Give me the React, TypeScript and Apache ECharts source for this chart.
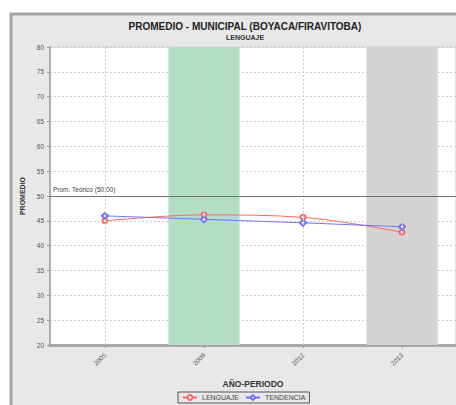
import React, { useEffect, useRef } from "react";
import * as echarts from "echarts";

const categories = ["2005", "2009", "2012", "2013"];
const lenguaje = [45.0, 46.2, 45.7, 42.7];
const tendencia = [46.0, 45.3, 44.6, 43.8];
const highlighted = ["2009", "2013"];
const promTeorico = 50;

export default function App() {
  const ref = useRef<HTMLDivElement>(null);
  useEffect(() => {
    const chart = echarts.init(ref.current!, null, { renderer: "svg" });
    const half = 0.36;
    const bandColors = ["#b3dfc7", "#d4d4d4"];
    const font = "Liberation Sans, Arial, sans-serif";
    chart.setOption({
      animation: false,
      backgroundColor: "#ffffff",
      textStyle: { fontFamily: font },
      graphic: [
        {
          type: "rect",
          z: -10,
          shape: { x: 11, y: 14, width: 480, height: 420 },
          style: { fill: "#e8e8e8", stroke: "#a3a3a3", lineWidth: 3 },
        },
      ],
      title: {
        text: "PROMEDIO - MUNICIPAL (BOYACA/FIRAVITOBA)",
        subtext: "LENGUAJE",
        left: 240,
        textAlign: "center",
        top: 16,
        itemGap: 3,
        textStyle: { fontSize: 10, fontWeight: "bold", color: "#222", fontFamily: font },
        subtextStyle: { fontSize: 7, fontWeight: "bold", color: "#333", fontFamily: font },
      },
      legend: {
        left: 178,
        top: 392,
        orient: "horizontal",
        borderColor: "#555",
        borderWidth: 1,
        padding: [2, 4],
        itemGap: 6,
        itemWidth: 14,
        itemHeight: 6,
        textStyle: { fontSize: 7, color: "#444", fontFamily: font },
        data: ["LENGUAJE", "TENDENCIA"],
      },
      grid: {
        left: 50,
        top: 47,
        right: 0,
        bottom: 60,
        show: true,
        backgroundColor: "#ffffff",
        borderColor: "#cfcfcf",
        borderWidth: 1,
      },
      xAxis: {
        type: "value",
        min: -0.555,
        max: 3.545,
        name: "AÑO-PERIODO",
        nameLocation: "middle",
        nameGap: 34,
        nameTextStyle: { fontSize: 8.5, fontWeight: "bold", color: "#333" },
        axisLine: { show: true, onZero: false, lineStyle: { color: "#a8a8a8", width: 3 } },
        axisTick: {
          show: true,
          customValues: categories.map((_, i) => i),
          length: 3,
          lineStyle: { color: "#999" },
        },
        axisLabel: {
          customValues: categories.map((_, i) => i),
          formatter: (v: number) => categories[Math.round(v)] ?? "",
          rotate: 45,
          fontSize: 6.5,
          color: "#555",
          margin: 9,
        },
        splitLine: { show: false },
      },
      yAxis: {
        type: "value",
        min: 20,
        max: 80,
        interval: 5,
        name: "PROMEDIO",
        nameLocation: "middle",
        nameGap: 20,
        nameRotate: 90,
        nameTextStyle: { fontSize: 7, fontWeight: "bold", color: "#333" },
        axisLine: { show: true, onZero: false, lineStyle: { color: "#b0b0b0", width: 2 } },
        axisTick: { show: true, length: 3, lineStyle: { color: "#999" } },
        axisLabel: { fontSize: 6.5, color: "#555", margin: 6 },
        splitLine: { show: true, lineStyle: { color: "#cdcdcd", type: [2, 2], width: 1 } },
      },
      series: [
        {
          name: "LENGUAJE",
          type: "line",
          z: 3,
          data: lenguaje.map((v, i) => [i, v]),
          smooth: 0.35,
          symbol: "emptyCircle",
          symbolSize: 5,
          itemStyle: { color: "#ff6464" },
          lineStyle: { color: "#ff6464", width: 1 },
          markArea: {
            silent: true,
            data: highlighted.map((c, k) => {
              const idx = categories.indexOf(c);
              return [
                { xAxis: idx - half, itemStyle: { color: bandColors[k] } },
                { xAxis: idx + half },
              ];
            }),
          },
          markLine: {
            silent: true,
            symbol: "none",
            label: { show: false },
            lineStyle: { color: "#cdcdcd", type: [2, 2], width: 1 },
            data: categories.map((_, i) => ({ xAxis: i })),
          },
        },
        {
          name: "TENDENCIA",
          type: "line",
          z: 4,
          data: tendencia.map((v, i) => [i, v]),
          smooth: 0.2,
          symbol: "emptyDiamond",
          symbolSize: 6,
          itemStyle: { color: "#7070ff" },
          lineStyle: { color: "#7070ff", width: 1 },
          markLine: {
            silent: true,
            symbol: "none",
            lineStyle: { color: "#707070", type: "solid", width: 1 },
            label: {
              show: true,
              position: "insideStartTop",
              formatter: "Prom. Teórico (" + promTeorico.toFixed(2) + ")",
              fontSize: 6.5,
              color: "#444",
              distance: 3,
            },
            data: [{ yAxis: promTeorico }],
          },
        },
      ],
    });
    return () => chart.dispose();
  }, []);
  return (
    <div
      ref={ref}
      style={{ position: "fixed", left: 0, top: 0, width: 456, height: 405 }}
    />
  );
}
